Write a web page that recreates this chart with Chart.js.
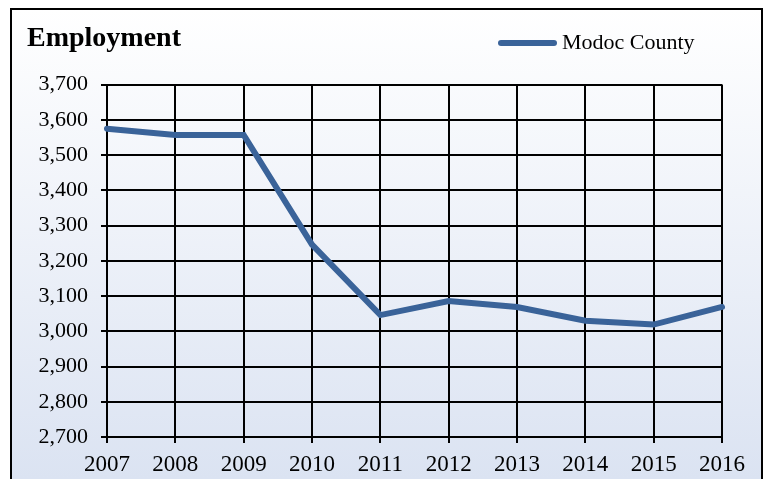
<!DOCTYPE html>
<html>
<head>
<meta charset="utf-8">
<title>Employment</title>
<script src="https://cdn.jsdelivr.net/npm/chart.js@4.4.1/dist/chart.umd.min.js"></script>
<style>
  html, body { margin: 0; padding: 0; background: #fff; }
  canvas { display: block; }
</style>
</head>
<body>
<canvas id="employmentChart" width="765" height="479"></canvas>
<script>
var years = ["2007", "2008", "2009", "2010", "2011", "2012", "2013", "2014", "2015", "2016"];
var modocEmployment = [3575, 3557, 3557, 3246, 3046, 3086, 3069, 3030, 3019, 3069];
var yMin = 2700;
var yMax = 3700;
var yStep = 100;

var serif = "'Liberation Serif', 'Times New Roman', serif";
var lineColor = "#3A6399";

// frame + gradient behind everything
var framePlugin = {
  id: 'frame',
  beforeDraw: function(chart) {
    var c = chart.ctx;
    c.save();
    c.fillStyle = "#fff";
    c.fillRect(0, 0, chart.width, chart.height);
    var g = c.createLinearGradient(0, 9, 0, chart.height);
    g.addColorStop(0, "#ffffff");
    g.addColorStop(1, "#dbe3f2");
    c.fillStyle = g;
    c.fillRect(11, 9, 751, chart.height);
    c.strokeStyle = "#000";
    c.lineWidth = 2;
    c.strokeRect(11, 9, 751, chart.height + 10);
    c.restore();
  }
};

// legend drawn on the title row, right side
var sideLegend = {
  id: 'sideLegend',
  afterDraw: function(chart) {
    var c = chart.ctx;
    var ds = chart.data.datasets[0];
    var y = 43;
    c.save();
    c.strokeStyle = ds.borderColor;
    c.lineWidth = ds.borderWidth;
    c.lineCap = "round";
    c.beginPath();
    c.moveTo(501, y);
    c.lineTo(554, y);
    c.stroke();
    c.fillStyle = "#000";
    c.font = "22px " + serif;
    c.textBaseline = "middle";
    c.fillText(ds.label, 562, y);
    c.restore();
  }
};

var ctx = document.getElementById('employmentChart').getContext("2d");

var myChart = new Chart(ctx, {
  type: 'line',
  data: {
    labels: years,
    datasets: [{
      label: "Modoc County",
      data: modocEmployment,
      borderColor: lineColor,
      backgroundColor: lineColor,
      borderWidth: 6,
      borderCapStyle: 'round',
      pointRadius: 0,
      tension: 0,
      fill: false
    }]
  },
  options: {
    responsive: false,
    animation: false,
    devicePixelRatio: 1,
    layout: {
      padding: { left: 27, right: 43, top: 0, bottom: 0 }
    },
    plugins: {
      legend: { display: false },
      tooltip: { enabled: false },
      title: {
        display: true,
        text: "Employment",
        align: 'start',
        color: "#000",
        font: { family: serif, size: 28, weight: 'bold' },
        padding: { top: 22, bottom: 29 }
      }
    },
    scales: {
      x: {
        grid: { color: "#000", lineWidth: 2, tickLength: 6, tickColor: "#000" },
        border: { display: true, color: "#000", width: 2 },
        ticks: {
          color: "#000",
          padding: 8,
          maxRotation: 0,
          font: { family: serif, size: 23 }
        },
        afterFit: function(scale) {
          scale.height = 42;
          scale.paddingLeft = 0;
          scale.paddingRight = 0;
        }
      },
      y: {
        min: yMin,
        max: yMax,
        grid: { color: "#000", lineWidth: 2, tickLength: 6, tickColor: "#000" },
        border: { display: true, color: "#000", width: 2 },
        ticks: {
          stepSize: yStep,
          color: "#000",
          padding: 13,
          font: { family: serif, size: 22 }
        },
        afterFit: function(scale) {
          scale.width = 80;
          scale.paddingTop = 0;
          scale.paddingBottom = 0;
        }
      }
    }
  },
  plugins: [framePlugin, sideLegend]
});
</script>
</body>
</html>
